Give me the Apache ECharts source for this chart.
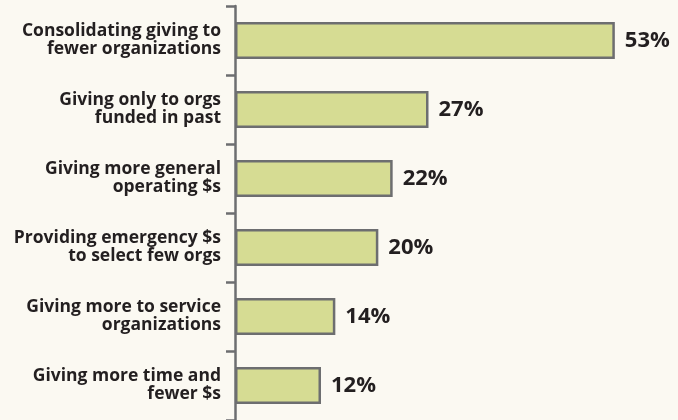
<!DOCTYPE html>
<html><head><meta charset="utf-8">
<script src="https://cdn.jsdelivr.net/npm/echarts@6/dist/echarts.min.js"></script>
<style>html,body{margin:0;padding:0;background:#fbf9f2;}#c{width:678px;height:420px;}</style>
</head><body><div id="c"></div>
<script>
const categories = [
  "Consolidating giving to\nfewer organizations",
  "Giving only to orgs\nfunded in past",
  "Giving more general\noperating $s",
  "Providing emergency $s\nto select few orgs",
  "Giving more to service\norganizations",
  "Giving more time and\nfewer $s"
];
const values = [53, 27, 22, 20, 14, 12];

const chart = echarts.init(document.getElementById('c'), null, {renderer: 'canvas'});
chart.setOption({
  backgroundColor: '#fbf9f2',
  animation: false,
  grid: {left: 235, right: 13, top: 6, bottom: -6, containLabel: false},
  xAxis: {type: 'value', min: 0, max: 60, show: false},
  yAxis: {
    type: 'category', inverse: true, data: categories,
    axisLine: {lineStyle: {color: '#6d6e70', width: 2.5}},
    axisTick: {show: true, length: 9, lineStyle: {color: '#6d6e70', width: 2.5}},
    axisLabel: {margin: 14, color: '#231f20', fontFamily: 'Open Sans', fontWeight: 'bold', fontSize: 17.5, lineHeight: 18, align: 'right'}
  },
  series: [{
    type: 'bar', data: values, barWidth: 37,
    itemStyle: {color: '#d6dc93', borderColor: '#6d6e70', borderWidth: 2.5},
    label: {show: true, position: 'right', distance: 10, formatter: '{c}%', color: '#231f20', fontFamily: 'Open Sans', fontWeight: 'bold', fontSize: 22}
  }]
});
</script></body></html>
